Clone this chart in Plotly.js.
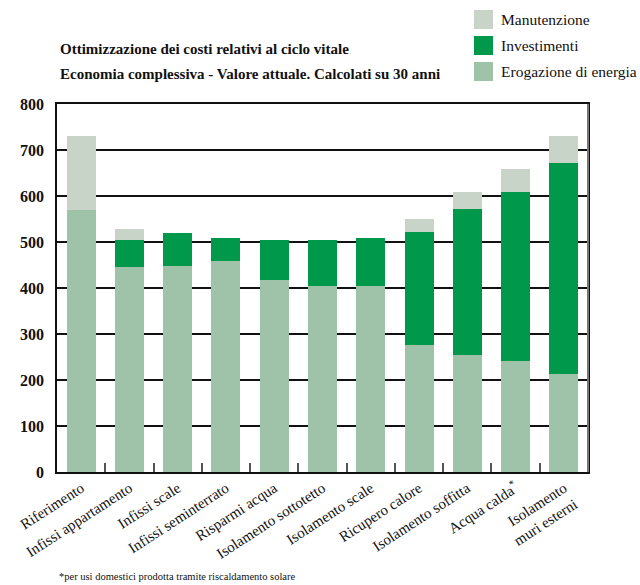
<!DOCTYPE html>
<html>
<head>
<meta charset="utf-8">
<script src="https://cdn.plot.ly/plotly-3.0.1.min.js"></script>
<style>html,body{margin:0;padding:0;background:#fff;}#chart{width:640px;height:585px;}</style>
</head>
<body>
<div id="chart"></div>
<script>
const categories = [
  "Riferimento",
  "Infissi appartamento",
  "Infissi scale",
  "Infissi seminterrato",
  "Risparmi acqua",
  "Isolamento sottotetto",
  "Isolamento scale",
  "Ricupero calore",
  "Isolamento soffitta",
  "Acqua calda<sup>*</sup>",
  "Isolamento<br>muri esterni"
];
const erogazione = [570, 446, 448, 459, 417, 404, 404, 276, 254, 241, 213];
const investimenti = [0, 58, 72, 50, 87, 100, 105, 246, 318, 368, 459];
const manutenzione = [160, 24, 0, 0, 0, 0, 0, 28, 37, 50, 58];
const yTicks = [0, 100, 200, 300, 400, 500, 600, 700, 800];
const seriesNames = ['Manutenzione', 'Investimenti', 'Erogazione di energia'];
const seriesColors = ['#c9d4c8', '#00994c', '#9ec3a8'];

const FONT = "Liberation Serif, Times New Roman, serif";

const traces = [
  {type: 'bar', name: seriesNames[2], x: categories, y: erogazione,
   marker: {color: seriesColors[2], line: {width: 0}}, hoverinfo: 'y'},
  {type: 'bar', name: seriesNames[1], x: categories, y: investimenti,
   marker: {color: seriesColors[1], line: {width: 0}}, hoverinfo: 'y'},
  {type: 'bar', name: seriesNames[0], x: categories, y: manutenzione,
   marker: {color: seriesColors[0], line: {width: 0}}, hoverinfo: 'y'}
];

// custom legend (paper coordinates, above the plot area)
const legBoxX = [0.7853, 0.8211];
const legBoxY = [[1.2038, 1.2554], [1.1332, 1.1848], [1.0625, 1.1141]];
const legTextY = [1.2283, 1.1603, 1.0870];
const shapes = [];
const annotations = [];
seriesNames.forEach((n, i) => {
  shapes.push({type: 'rect', xref: 'paper', yref: 'paper',
    x0: legBoxX[0], x1: legBoxX[1], y0: legBoxY[i][0], y1: legBoxY[i][1],
    fillcolor: seriesColors[i], line: {width: 0}});
  annotations.push({text: n, xref: 'paper', yref: 'paper', x: 0.8324, y: legTextY[i],
    xanchor: 'left', yanchor: 'middle', showarrow: false,
    font: {family: FONT, size: 15.5, color: '#111'}});
});
// grey right frame edge as in the reference
shapes.push({type: 'line', xref: 'paper', yref: 'paper', x0: 1, x1: 1, y0: 0, y1: 1,
  line: {color: '#777', width: 2}});

annotations.push(
  {text: '<b>Ottimizzazione dei costi relativi al ciclo vitale</b>', xref: 'paper', yref: 'paper',
   x: 0.002, y: 1.149, xanchor: 'left', yanchor: 'middle', showarrow: false,
   font: {family: FONT, size: 15, color: '#111'}},
  {text: '<b>Economia complessiva - Valore attuale. Calcolati su 30 anni</b>', xref: 'paper', yref: 'paper',
   x: 0.002, y: 1.0815, xanchor: 'left', yanchor: 'middle', showarrow: false,
   font: {family: FONT, size: 15, color: '#111'}},
  {text: '*per usi domestici prodotta tramite riscaldamento solare', xref: 'paper', yref: 'paper',
   x: 0.0, y: -0.285, xanchor: 'left', yanchor: 'middle', showarrow: false,
   font: {family: FONT, size: 10.5, color: '#111'}}
);

const layout = {
  width: 640, height: 585,
  margin: {l: 57, r: 52, t: 104, b: 113},
  paper_bgcolor: '#ffffff', plot_bgcolor: '#ffffff',
  font: {family: FONT, color: '#111', size: 14},
  barmode: 'stack',
  bargap: 0.4,
  showlegend: false,
  xaxis: {
    type: 'category',
    showgrid: false,
    showline: true, linecolor: '#111', linewidth: 1.5, mirror: true,
    ticks: 'inside', tickson: 'boundaries', ticklen: 9, tickcolor: '#555', tickwidth: 1.5,
    tickangle: -33,
    tickfont: {family: FONT, size: 15, color: '#111'},
    automargin: false
  },
  yaxis: {
    range: [0, 800],
    tickvals: yTicks,
    ticktext: yTicks.map(String),
    showgrid: true, gridcolor: '#111', gridwidth: 1.5,
    zeroline: false,
    showline: true, linecolor: '#111', linewidth: 1.5, mirror: true,
    ticks: '',
    ticklabelstandoff: 8,
    tickfont: {family: FONT, size: 16, color: '#111', weight: 700},
    automargin: false
  },
  shapes: shapes,
  annotations: annotations
};

Plotly.newPlot('chart', traces, layout, {displayModeBar: false, responsive: false});
</script>
</body>
</html>
